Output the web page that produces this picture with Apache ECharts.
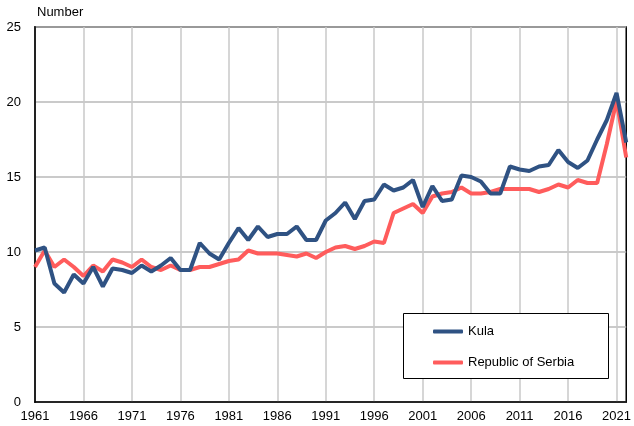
<!DOCTYPE html>
<html>
<head>
<meta charset="utf-8">
<script src="https://cdn.jsdelivr.net/npm/echarts@6/dist/echarts.min.js"></script>
<style>html,body{margin:0;padding:0;background:#fff;}#c{width:634px;height:426px;}</style>
</head>
<body>
<div id="c"></div>
<script>
const years = [];
for (let y = 1961; y <= 2022; y++) years.push(String(y));

const kula = [10.1,10.3,7.9,7.3,8.5,7.9,9.0,7.7,8.9,8.8,
  8.6,9.1,8.7,9.1,9.6,8.8,8.8,10.6,9.9,9.5,
  10.6,11.6,10.8,11.7,11.0,11.2,11.2,11.7,10.8,10.8,
  12.1,12.6,13.3,12.2,13.4,13.5,14.5,14.1,14.3,14.8,
  13.0,14.4,13.4,13.5,15.1,15.0,14.7,13.9,13.9,15.7,
  15.5,15.4,15.7,15.8,16.8,16.0,15.6,16.1,17.5,18.8,
  20.6,17.3];

const serbia = [9.0,10.1,9.0,9.5,9.0,8.4,9.1,8.7,9.5,9.3,
  9.0,9.5,9.0,8.8,9.1,8.8,8.8,9.0,9.0,9.2,
  9.4,9.5,10.1,9.9,9.9,9.9,9.8,9.7,9.9,9.6,
  10.0,10.3,10.4,10.2,10.4,10.7,10.6,12.6,12.9,13.2,
  12.6,13.7,13.9,14.0,14.3,13.9,13.9,14.0,14.2,14.2,
  14.2,14.2,14.0,14.2,14.5,14.3,14.8,14.6,14.6,17.2,
  20.1,16.3];

const seriesNames = ['Kula', 'Republic of Serbia'];
const yTicks = [0, 5, 10, 15, 20, 25];

const chart = echarts.init(document.getElementById('c'), null, {renderer: 'canvas'});
const font = 'Arial, "Liberation Sans", sans-serif';
chart.setOption({
  animation: false,
  backgroundColor: '#fff',
  textStyle: {fontFamily: font},
  grid: {left: 35, right: 2, top: 27, bottom: 24, show: true, borderColor: '#000', borderWidth: 1.5, backgroundColor: 'transparent'},
  graphic: [
    {type: 'text', left: 37, top: 6, style: {text: 'Number', font: '13px ' + font, fill: '#000'}},
    {type: 'rect', left: 403, top: 313, shape: {width: 205, height: 65}, style: {fill: '#fff', stroke: '#000', lineWidth: 1}, z: 10}
  ],
  legend: {
    orient: 'vertical',
    left: 428, top: 320,
    itemWidth: 30, itemHeight: 4, itemGap: 18,
    icon: 'roundRect',
    textStyle: {fontSize: 13, color: '#000', fontFamily: font},
    data: seriesNames,
    z: 20
  },
  xAxis: {
    type: 'category',
    data: years,
    boundaryGap: false,
    axisLine: {lineStyle: {color: '#000', width: 1.5}},
    axisTick: {show: false},
    axisLabel: {interval: 4, color: '#000', fontSize: 13, margin: 8, fontFamily: font},
    splitLine: {show: true, interval: 4, lineStyle: {color: '#c8c8c8', width: 1.5}}
  },
  yAxis: {
    type: 'value',
    min: yTicks[0], max: yTicks[yTicks.length - 1], interval: 5,
    axisLine: {show: true, lineStyle: {color: '#222', width: 2}},
    axisTick: {show: false},
    axisLabel: {color: '#000', fontSize: 13, margin: 14, fontFamily: font},
    splitLine: {lineStyle: {color: '#b8b8b8', width: 1.5}}
  },
  series: [
    {name: seriesNames[0], type: 'line', data: kula, symbol: 'none', lineStyle: {color: '#2f5283', width: 4}, itemStyle: {color: '#2f5283'}, z: 3},
    {name: seriesNames[1], type: 'line', data: serbia, symbol: 'none', lineStyle: {color: '#ff5c5c', width: 4}, itemStyle: {color: '#ff5c5c'}, z: 2}
  ]
});
</script>
</body>
</html>
